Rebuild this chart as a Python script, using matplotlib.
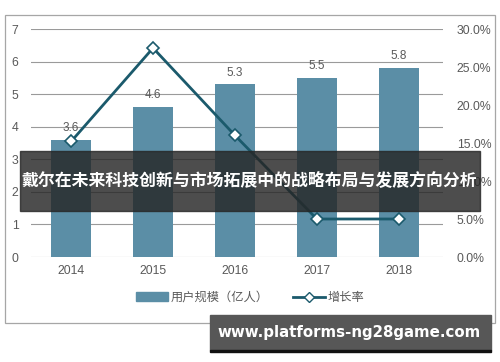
import matplotlib
matplotlib.use("Agg")
import matplotlib.pyplot as plt
from matplotlib.patches import Rectangle
from matplotlib.lines import Line2D
from matplotlib.patches import Patch

years = ["2014", "2015", "2016", "2017", "2018"]
users = [3.6, 4.6, 5.3, 5.5, 5.8]          # 用户规模（亿人）
growth = [15.2, 27.5, 16.0, 5.0, 5.0]      # 增长率 (%)
left_ticks = [0, 1, 2, 3, 4, 5, 6, 7]
right_ticks = [0, 5, 10, 15, 20, 25, 30]

title = "戴尔在未来科技创新与市场拓展中的战略布局与发展方向分析"
site = "www.platforms-ng28game.com"

plt.rcParams["font.family"] = ["Liberation Sans", "Noto Sans CJK SC", "DejaVu Sans"]
bar_c = "#5b8ea6"
line_c = "#1b5a6c"
txt_c = "#595959"

fig = plt.figure(figsize=(5.0, 3.62), dpi=100)
W, H = 500, 362

# outer chart frame
fig.patches.append(Rectangle((5 / W, 1 - 323 / H), 490 / W, 308 / H,
                             transform=fig.transFigure, fill=False,
                             ec="#a6a6a6", lw=0.9, zorder=0))

ax = fig.add_axes([31 / W, 1 - 257 / H, 412 / W, 228 / H])
x = list(range(len(years)))
ax.bar(x, users, width=0.49, color=bar_c, zorder=2)
for xi, v in zip(x, users):
    ax.text(xi, v + 0.18, f"{v}", ha="center", va="bottom", fontsize=8.5, color=txt_c)
ax.set_xlim(-0.49, 4.54)
ax.set_ylim(0, 7)
ax.set_yticks(left_ticks)
ax.set_xticks(x)
ax.set_xticklabels(years)
ax.grid(axis="y", color="#9a9a9a", lw=0.8, zorder=0)
for s in ax.spines.values():
    s.set_visible(False)
ax.tick_params(length=0, labelsize=8.8, colors=txt_c, pad=9)
ax.tick_params(axis="x", pad=6)

ax2 = ax.twinx()
ax2.plot(x, growth, color=line_c, lw=2, marker="D", ms=6.5, mfc="white",
         mec=line_c, mew=1.2, zorder=3)
ax2.set_ylim(0, 30)
ax2.set_yticks(right_ticks)
ax2.set_yticklabels([f"{t:.1f}%" for t in right_ticks])
for s in ax2.spines.values():
    s.set_visible(False)
ax2.tick_params(length=0, labelsize=8.8, colors=txt_c, pad=10)

handles = [Patch(color=bar_c),
           Line2D([], [], color=line_c, lw=2, marker="D", ms=5, mfc="white", mec=line_c)]
fig.legend(handles, ["用户规模（亿人）", "增长率"], loc="center",
           bbox_to_anchor=(250 / W, 1 - 298 / H), ncol=2, frameon=False,
           fontsize=8.8, labelcolor=txt_c, handlelength=2.6, columnspacing=2.0,
           handletextpad=0.2)

# dark overlay banner with title
fig.patches.append(Rectangle((20 / W, 1 - 211 / H), 460 / W, 60 / H,
                             transform=fig.transFigure, color="#262626",
                             alpha=0.82, zorder=10))
fig.text(249 / W, 1 - 181 / H, title, ha="center", va="center", color="white",
         fontsize=12.15, fontweight="bold", family=["Noto Sans CJK SC"], zorder=11)

# bottom site box
fig.patches.append(Rectangle((210 / W, 1 - 350 / H), 281 / W, 35 / H,
                             transform=fig.transFigure, color="#575757", zorder=10))
fig.patches.append(Rectangle((210 / W, 1 - 352 / H), 281 / W, 2.5 / H,
                             transform=fig.transFigure, color="#111111", zorder=10))
fig.text(349 / W, 1 - 333 / H, site, ha="center", va="center", color="white",
         fontsize=10.8, fontweight="bold", family=["DejaVu Sans"], zorder=11)

fig.savefig("out.png", dpi=100)
